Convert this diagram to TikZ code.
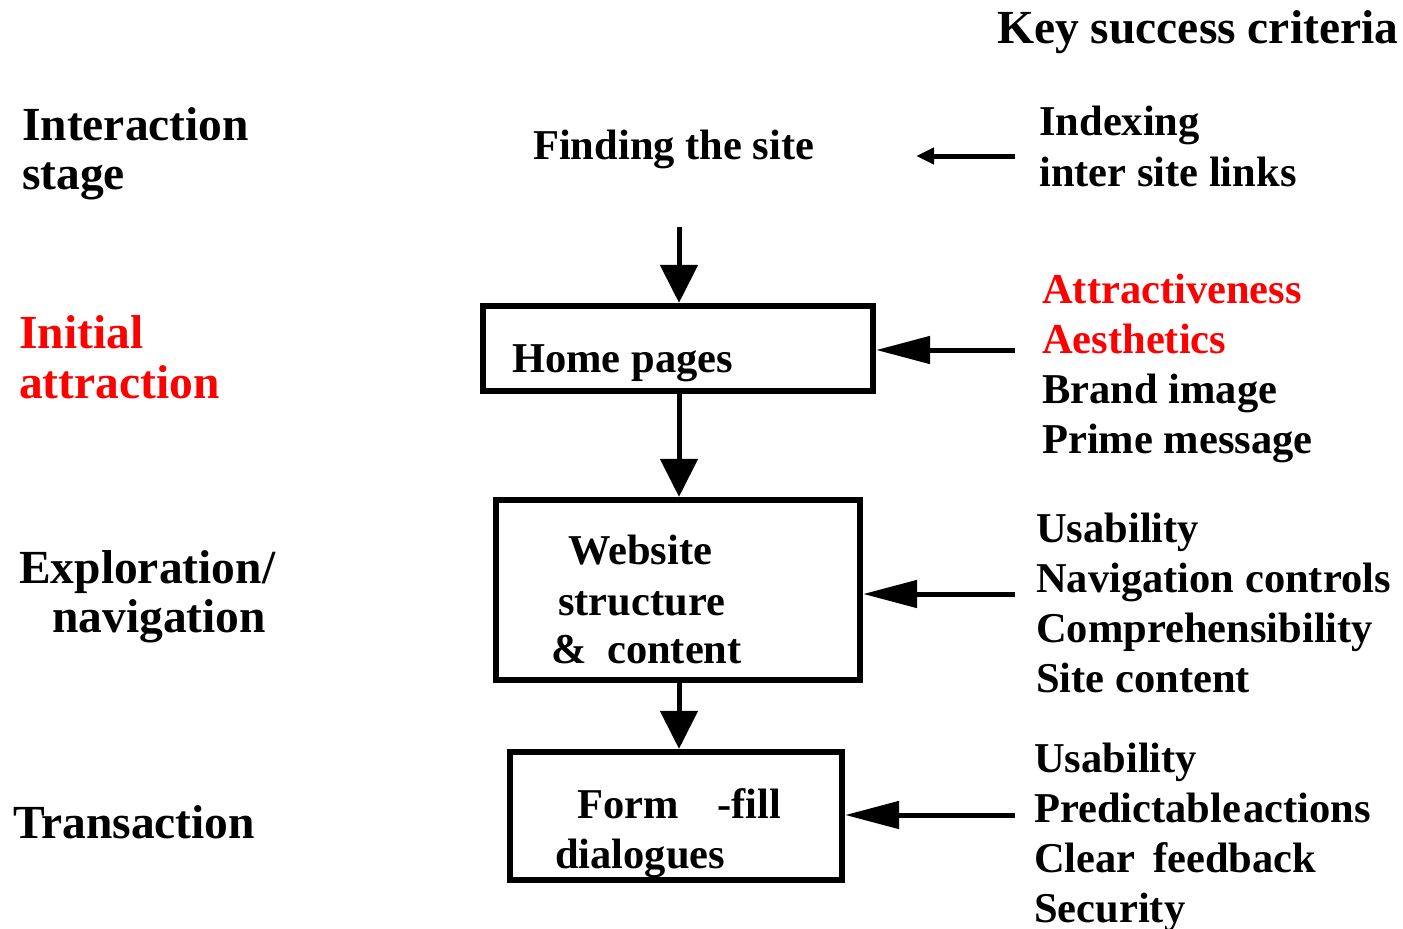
\documentclass[tikz,border=0pt]{standalone}
\usepackage{fontspec}
\setmainfont{Liberation Serif}
\usetikzlibrary{arrows.meta}
\definecolor{hired}{RGB}{255,0,0}
\begin{document}
\begin{tikzpicture}[x=1pt,y=-1pt,
  txt/.style={anchor=base west, inner sep=0pt, font=\fontsize{42.5}{50}\selectfont\bfseries},
  big/.style={anchor=base west, inner sep=0pt, font=\fontsize{47.5}{55}\selectfont\bfseries},
  box/.style={draw, line width=5.8pt, inner sep=0pt},
  flow/.style={line width=5pt, -{Triangle[length=38pt,width=37pt]}},
  feed/.style={line width=5pt, -{Triangle[length=54pt,width=27pt]}},
  feedsmall/.style={line width=5pt, -{Triangle[length=18pt,width=16pt]}}]
\useasboundingbox (0,0) rectangle (1403,929);

% title
\node[big] (title) at (997,43) {Key success criteria};

% left column
\node[big] (l1a) at (22,140) {Interaction};
\node[big] (l1b) at (22,189) {stage};
\node[big, text=hired] (l2a) at (19,348) {Initial};
\node[big, text=hired] (l2b) at (19,398) {attraction};
\node[big] (l3a) at (19,583) {Exploration/};
\node[big] (l3b) at (52,632) {navigation};
\node[big] (l4) at (13,838) {Transaction};

% middle column
\node[txt] (find) at (533,159) {Finding the site};
\node[box, minimum width=390.5pt, minimum height=85.5pt] (home) at (678,348.5) {};
\node[txt] (hometxt) at (512,372) {Home pages};
\node[box, minimum width=364.5pt, minimum height=180.5pt] (web) at (678,590) {};
\node[txt] (web1) at (568,564) {Website};
\node[txt] (web2) at (558,615) {structure};
\node[txt] (web3) at (551,663) {\&\hspace{10pt} content};
\node[box, minimum width=332.5pt, minimum height=128.5pt] (form) at (676,816) {};
\node[txt] (form1) at (577,818) {Form \hspace{28pt}-fill};
\node[txt] (form2) at (555,868) {dialogues};

% right column
\node[txt] (r1a) at (1039,135) {Indexing};
\node[txt] (r1b) at (1039,186) {inter site links};
\node[txt, text=hired] (r2a) at (1042,303) {Attractiveness};
\node[txt, text=hired] (r2b) at (1042,353) {Aesthetics};
\node[txt] (r2c) at (1042,403) {Brand image};
\node[txt] (r2d) at (1042,453) {Prime message};
\node[txt] (r3a) at (1036,542) {Usability};
\node[txt] (r3b) at (1036,592) {Navigation controls};
\node[txt] (r3c) at (1036,642) {Comprehensibility};
\node[txt] (r3d) at (1036,692) {Site content};
\node[txt] (r4a) at (1034,772) {Usability};
\node[txt] (r4b) at (1034,822) {Predictable{\kern2pt}actions};
\node[txt] (r4c) at (1034,872) {Clear \hspace{7pt}feedback};
\node[txt] (r4d) at (1034,922) {Security};

% vertical flow arrows
\coordinate (s1) at (679,227);
\draw[flow] (s1) -- (s1 |- home.north);
\draw[flow] (home.south -| s1) -- (web.north -| s1);
\draw[flow] (web.south -| s1) -- (form.north -| s1);

% criteria arrows
\coordinate (t1) at (1015,156);
\coordinate (t2) at (916,156);
\draw[feedsmall] (t1) -- (t2);
\coordinate (h1) at (1015,350);
\draw[feed] (h1) -- (h1 -| home.east);
\coordinate (h2) at (1015,594);
\draw[feed] (h2) -- (h2 -| web.east);
\coordinate (h3) at (1015,815);
\draw[feed] (h3) -- (h3 -| form.east);
\end{tikzpicture}
\end{document}
